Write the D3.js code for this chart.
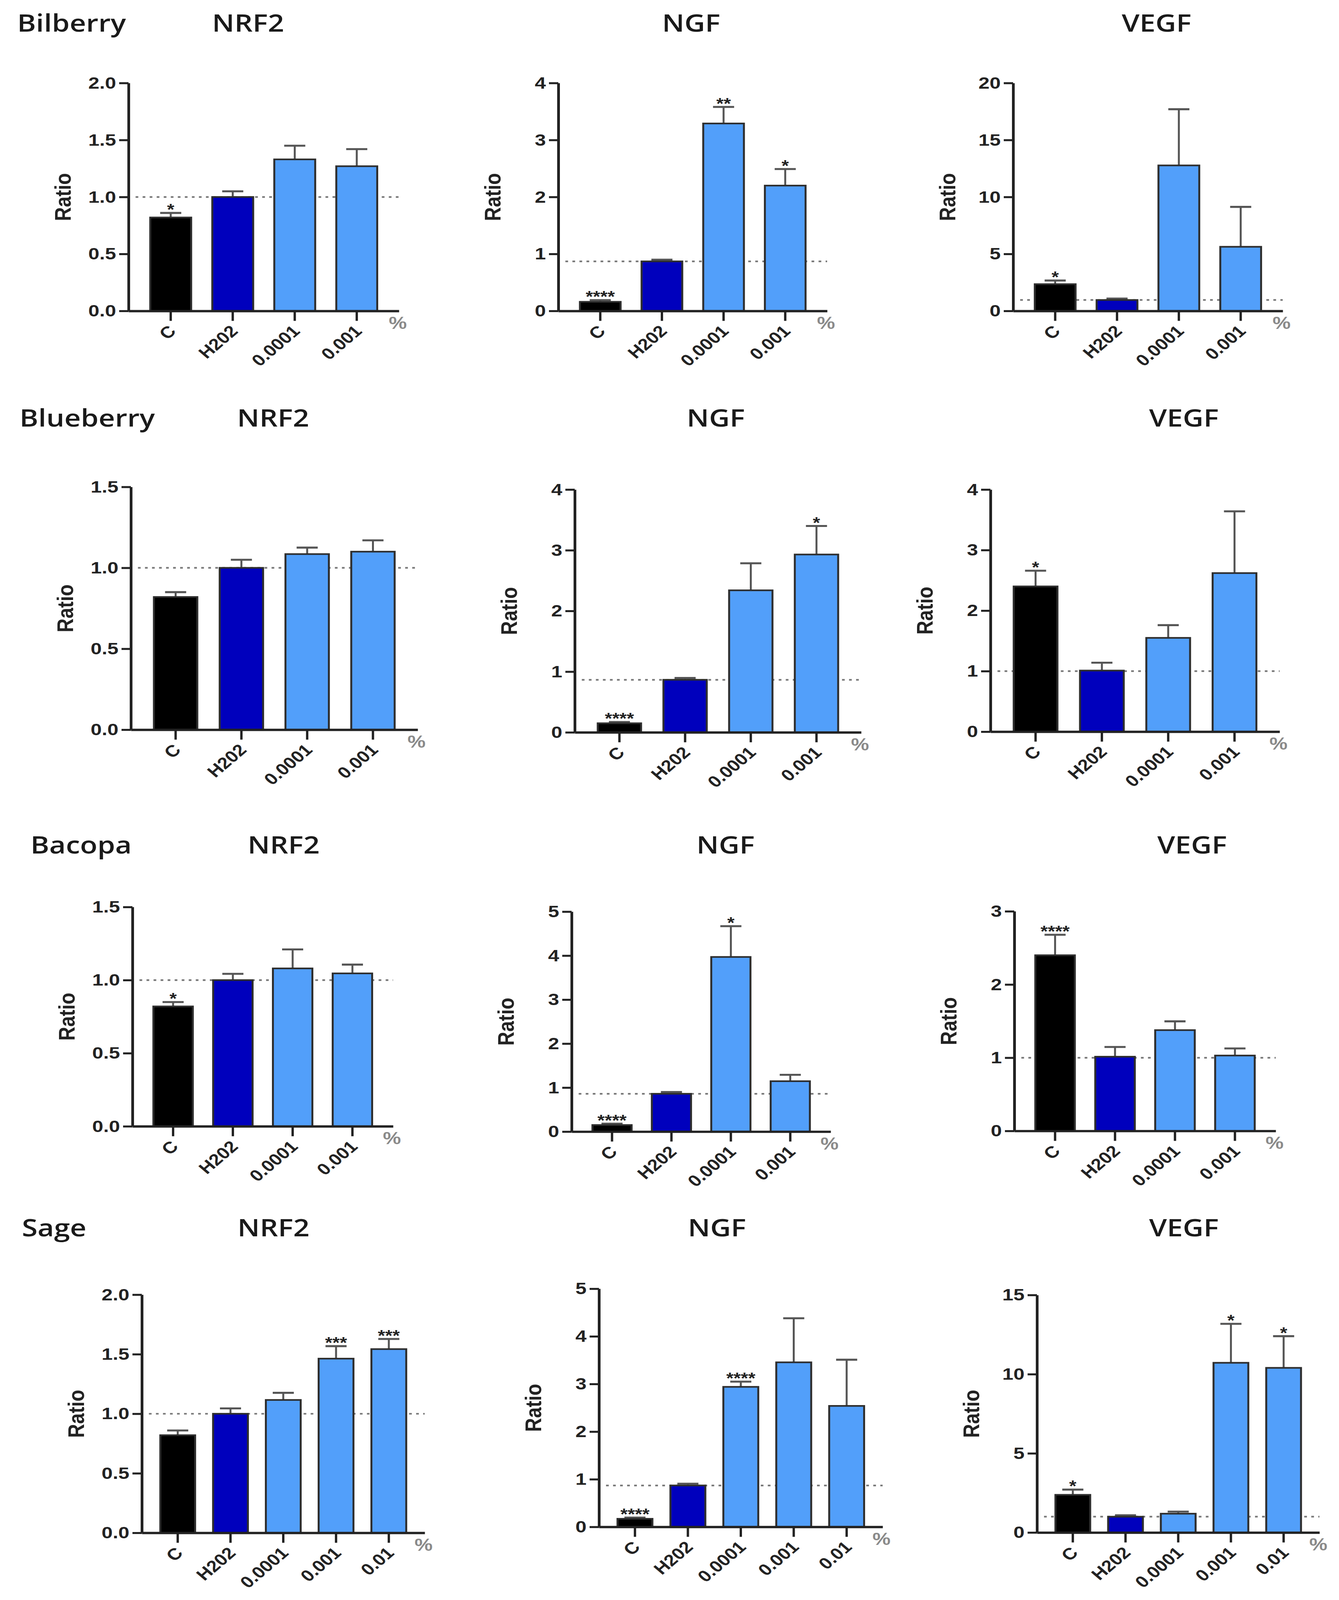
<!DOCTYPE html>
<html>
<head>
<meta charset="utf-8">
<script src="https://cdn.jsdelivr.net/npm/d3@7"></script>
<style>
  html, body { margin: 0; padding: 0; background: #fff; overflow: hidden; }
  #chart svg { display: block; width: 100vw; height: 100vh; }
</style>
</head>
<body>
<div id="chart"></div>
<script>
// ---- data ----
const plants = ['Bilberry', 'Blueberry', 'Bacopa', 'Sage'];
const markers = ['NRF2', 'NGF', 'VEGF'];
const groups4 = ['C', 'H202', '0.0001', '0.001'];
const groups5 = ['C', 'H202', '0.0001', '0.001', '0.01'];

// means per marker (NRF2, NGF, VEGF)
const bilberryMeans = [[0.82, 1.00, 1.33, 1.27], [0.16, 0.87, 3.29, 2.20], [2.35, 0.96, 12.77, 5.63]];
const bilberrySem = [[0.04, 0.05, 0.12, 0.15], [0.03, 0.03, 0.29, 0.29], [0.32, 0.13, 4.93, 3.50]];
const bilberrySig = [['*', '', '', ''], ['****', '', '**', '*'], ['*', '', '', '']];

const blueberryMeans = [[0.82, 1.00, 1.085, 1.10], [0.15, 0.866, 2.34, 2.93], [2.40, 1.01, 1.55, 2.62]];
const blueberrySem = [[0.03, 0.05, 0.04, 0.07], [0.02, 0.03, 0.445, 0.47], [0.26, 0.13, 0.21, 1.02]];
const blueberrySig = [['', '', '', ''], ['****', '', '', '*'], ['*', '', '', '']];

const bacopaMeans = [[0.82, 1.00, 1.08, 1.046], [0.15, 0.86, 3.97, 1.146], [2.40, 1.014, 1.377, 1.03]];
const bacopaSem = [[0.03, 0.043, 0.13, 0.06], [0.03, 0.04, 0.70, 0.145], [0.28, 0.133, 0.12, 0.097]];
const bacopaSig = [['*', '', '', ''], ['****', '', '*', ''], ['****', '', '', '']];

const sageMeans = [[0.82, 1.00, 1.116, 1.463, 1.543], [0.17, 0.87, 2.94, 3.455, 2.54], [2.38, 1.00, 1.19, 10.72, 10.40]];
const sageSem = [[0.04, 0.045, 0.06, 0.105, 0.085], [0.025, 0.037, 0.11, 0.925, 0.97], [0.33, 0.09, 0.13, 2.46, 2.00]];
const sageSig = [['', '', '', '***', '***'], ['****', '', '****', '', ''], ['*', '', '', '*', '*']];

// dotted reference level (H202 group) per plant / marker
const refLevels = [[1, 0.87, 0.96], [1, 0.866, 1], [1, 0.86, 1], [1, 0.87, 1]];
// y axis max and tick step per plant / marker
const yMaxes = [[2, 4, 20], [1.5, 4, 4], [1.5, 5, 3], [2, 5, 15]];
const ySteps = [[0.5, 1, 5], [0.5, 1, 1], [0.5, 1, 1], [0.5, 1, 5]];

const allMeans = [bilberryMeans, blueberryMeans, bacopaMeans, sageMeans];
const allSem = [bilberrySem, blueberrySem, bacopaSem, sageSem];
const allSig = [bilberrySig, blueberrySig, bacopaSig, sageSig];
const allGroups = [groups4, groups4, groups4, groups5];

// ---- layout (in reference pixels) ----
const W = 3427, H = 4837;
const rowLayout = [
  { titleY: 96, plantX: 44, centers: [635, 1769, 2960],
    axisX: [329, 1429, 2593], endX: [1021, 2117, 3283], top: [251, 251, 251], zero: [940, 940, 940] },
  { titleY: 1290, plantX: 50, centers: [699, 1832, 3030],
    axisX: [335, 1471, 2535], endX: [1069, 2204, 3275], top: [1472, 1480, 1480], zero: [2206, 2214, 2212] },
  { titleY: 2580, plantX: 78, centers: [726, 1857, 3051],
    axisX: [339, 1463, 2596], endX: [1006, 2126, 3265], top: [2742, 2756, 2755], zero: [3405, 3421, 3419] },
  { titleY: 3738, plantX: 56, centers: [700, 1835, 3030],
    axisX: [363, 1533, 2654], endX: [1087, 2259, 3377], top: [3914, 3896, 3915], zero: [4634, 4616, 4633] }
];

const barColors = ['#000000', '#0000bd', '#529ffa'];
const axisColor = '#222';
const tickFont = "'Liberation Sans', Arial, sans-serif";
const titleFont = "'Open Sans', 'Noto Sans', sans-serif";

// the whole figure is drawn in reference pixels and stretched to the window
const svg = d3.select('#chart').append('svg')
  .attr('viewBox', `0 0 ${W} ${H}`)
  .attr('preserveAspectRatio', 'none');

svg.append('rect').attr('width', W).attr('height', H).attr('fill', '#fff');

function barColor(i) {
  if (i === 0) return barColors[0];
  if (i === 1) return barColors[1];
  return barColors[2];
}

function drawPanel(r, c) {
  const L = rowLayout[r];
  const groups = allGroups[r];
  const means = allMeans[r][c];
  const sems = allSem[r][c];
  const sig = allSig[r][c];
  const data = groups.map((g, i) => ({ g, i, mean: means[i], sem: sems[i], sig: sig[i] }));

  const x = d3.scaleBand()
    .domain(groups)
    .range([L.axisX[c], L.endX[c]])
    .paddingInner(0.34)
    .paddingOuter(0.35);

  const y = d3.scaleLinear()
    .domain([0, yMaxes[r][c]])
    .range([L.zero[c], L.top[c]]);

  const g = svg.append('g');

  // dotted reference line, behind the bars
  g.append('line')
    .attr('x1', L.axisX[c] + 18)
    .attr('x2', L.endX[c])
    .attr('y1', y(refLevels[r][c]))
    .attr('y2', y(refLevels[r][c]))
    .attr('stroke', '#7a7a7a')
    .attr('stroke-width', 5)
    .attr('stroke-dasharray', '7,11');

  // error bars (upper only)
  const err = g.append('g').selectAll('g').data(data).join('g');
  err.append('line')
    .attr('x1', d => x(d.g) + x.bandwidth() / 2)
    .attr('x2', d => x(d.g) + x.bandwidth() / 2)
    .attr('y1', d => y(d.mean))
    .attr('y2', d => y(d.mean + d.sem))
    .attr('stroke', '#555')
    .attr('stroke-width', 5);
  err.append('line')
    .attr('x1', d => x(d.g) + x.bandwidth() / 2 - 27)
    .attr('x2', d => x(d.g) + x.bandwidth() / 2 + 27)
    .attr('y1', d => y(d.mean + d.sem))
    .attr('y2', d => y(d.mean + d.sem))
    .attr('stroke', '#555')
    .attr('stroke-width', 6);

  // bars
  g.append('g').selectAll('rect').data(data).join('rect')
    .attr('x', d => x(d.g))
    .attr('y', d => y(d.mean))
    .attr('width', x.bandwidth())
    .attr('height', d => y(0) - y(d.mean))
    .attr('fill', d => barColor(d.i))
    .attr('stroke', '#2e2e2e')
    .attr('stroke-width', 5);

  // significance stars
  g.append('g').selectAll('text').data(data.filter(d => d.sig)).join('text')
    .attr('x', d => x(d.g) + x.bandwidth() / 2)
    .attr('y', d => y(d.mean + d.sem) + 6)
    .attr('text-anchor', 'middle')
    .attr('font-family', tickFont)
    .attr('font-weight', 'bold')
    .attr('font-size', 48)
    .attr('fill', '#222')
    .text(d => d.sig);

  // y axis
  const yTicks = d3.range(0, yMaxes[r][c] + 1e-9, ySteps[r][c]);
  const fmt = ySteps[r][c] < 1 ? d3.format('.1f') : d3.format('d');
  const gy = g.append('g')
    .attr('transform', `translate(${L.axisX[c]},0)`)
    .call(d3.axisLeft(y).tickValues(yTicks).tickFormat(fmt).tickSize(24).tickSizeOuter(0).tickPadding(8));
  gy.select('.domain').attr('stroke', axisColor).attr('stroke-width', 7);
  gy.selectAll('.tick line').attr('stroke', axisColor).attr('stroke-width', 6);
  gy.selectAll('.tick text')
    .attr('font-family', tickFont)
    .attr('font-weight', 'bold')
    .attr('font-size', 51)
    .attr('fill', '#222');

  // x axis
  const gx = g.append('g')
    .attr('transform', `translate(0,${L.zero[c]})`)
    .call(d3.axisBottom(x).tickSize(30).tickSizeOuter(0));
  gx.select('.domain').attr('stroke', axisColor).attr('stroke-width', 7);
  gx.selectAll('.tick line').attr('stroke', axisColor).attr('stroke-width', 6);
  gx.selectAll('.tick text')
    .attr('font-family', tickFont)
    .attr('font-weight', 'bold')
    .attr('font-size', 49)
    .attr('fill', '#222')
    .attr('text-anchor', 'end')
    .attr('y', 0)
    .attr('dy', 0)
    .attr('transform', 'translate(16,64) rotate(-45)');

  // % unit
  g.append('text')
    .attr('x', L.endX[c] - 26)
    .attr('y', L.zero[c] + 54)
    .attr('font-family', tickFont)
    .attr('font-weight', 'bold')
    .attr('font-size', 52)
    .attr('fill', '#8a8a8a')
    .text('%');

  // y label
  g.append('text')
    .attr('transform', `translate(${L.axisX[c] - 168},${(L.top[c] + L.zero[c]) / 2}) rotate(-90)`)
    .attr('text-anchor', 'middle')
    .attr('dy', '0.35em')
    .attr('font-family', tickFont)
    .attr('font-weight', 'bold')
    .attr('font-size', 58)
    .attr('fill', '#222')
    .text('Ratio');

  // marker title
  svg.append('text')
    .attr('x', L.centers[c])
    .attr('y', L.titleY)
    .attr('text-anchor', 'middle')
    .attr('font-family', titleFont)
    .attr('font-weight', 600)
    .attr('font-size', 73)
    .attr('fill', '#1a1a1a')
    .text(markers[c]);
}

plants.forEach((p, r) => {
  svg.append('text')
    .attr('x', rowLayout[r].plantX)
    .attr('y', rowLayout[r].titleY)
    .attr('font-family', titleFont)
    .attr('font-weight', 600)
    .attr('font-size', 73)
    .attr('fill', '#1a1a1a')
    .text(p);
  markers.forEach((m, c) => drawPanel(r, c));
});
</script>
</body>
</html>
